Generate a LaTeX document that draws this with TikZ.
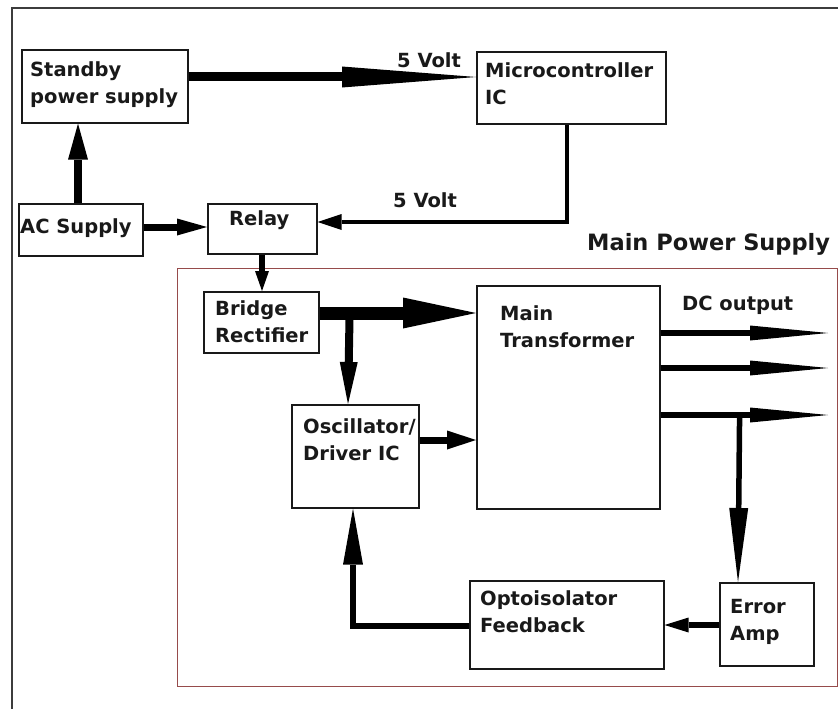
\documentclass[tikz,border=0pt]{standalone}
\usepackage{fontspec}
\setmainfont{DejaVu Sans}
\usetikzlibrary{arrows.meta,calc}
\definecolor{framegray}{RGB}{60,60,60}
\definecolor{psured}{RGB}{150,75,75}
\begin{document}
\begin{tikzpicture}[x=1pt,y=-1pt,
  box/.style={draw=black!90, line width=1.6pt, inner sep=0pt, anchor=north west},
  txt/.style={anchor=base west, align=left, inner sep=0pt, text=black!90,
    font=\fontsize{19.5}{27}\selectfont\bfseries},
  conn/.style={draw=black, line join=miter},
  tipA/.style n args={2}{-{Triangle[length=#1pt, width=#2pt, line width=0pt]}}
]
\useasboundingbox (0,0) rectangle (838,709);
\fill[white] (0,0) rectangle (838,709);
% outer frame (top and left)
\draw[framegray, line width=2pt] (12,709) -- (12,8) -- (838,8);
% main power supply enclosure
\node[draw=psured, line width=1.4pt, inner sep=0pt, anchor=north west,
      minimum width=660pt, minimum height=418pt] (psu) at (177,268) {};
\node[txt, font=\fontsize{22.5}{27}\selectfont\bfseries] (psulbl) at (587,250) {Main Power Supply};

% boxes
\node[box, minimum width=166pt, minimum height=73pt] (sb) at (21,49) {};
\node[box, minimum width=189pt, minimum height=72pt] (mc) at (476,51) {};
\node[box, minimum width=124pt, minimum height=52pt] (ac) at (18,203) {};
\node[box, minimum width=109pt, minimum height=50pt] (rl) at (207,203) {};
\node[box, minimum width=115pt, minimum height=61pt] (br) at (203,291) {};
\node[box, minimum width=183pt, minimum height=223pt] (tr) at (476,285) {};
\node[box, minimum width=127pt, minimum height=103pt] (os) at (291,404) {};
\node[box, minimum width=194pt, minimum height=88pt] (op) at (469,580) {};
\node[box, minimum width=94pt, minimum height=83pt] (ea) at (719,582) {};

% texts (base = baseline of last line)
\node[txt] (sbt) at (30,103) {Standby\\power supply};
\node[txt] (mct) at (485,104) {Microcontroller\\IC};
\node[txt] (act) at (20,233) {AC Supply};
\node[txt] (rlt) at (229,225) {Relay};
\node[txt] (brt) at (215,342) {Bridge\\Rectifier};
\node[txt] (trt) at (500,347) {Main\\Transformer};
\node[txt] (ost) at (303,460) {Oscillator/\\Driver IC};
\node[txt] (opt) at (480,632) {Optoisolator\\Feedback};
\node[txt] (eat) at (730,640) {Error\\Amp};
\node[txt] (v1) at (397,68) {5 Volt};
\node[txt] (v2) at (393,207) {5 Volt};
\node[txt] (dct) at (682,310) {DC output};

% junctions and free ends
\coordinate (j1) at ($(br.north east)+(30,22)$);
\coordinate (j2) at ($(tr.north east)+(79,130)$);
\coordinate (o1) at (828,333);
\coordinate (o2) at (828,368);
\coordinate (o3) at (828,415);

% connectors
\draw[conn, line width=9pt, tipA={134}{21}] ($(sb.north east)+(0,28)$) -- ($(mc.north west)+(0,26)$);
\draw[conn, line width=8pt, tipA={36}{20}] ($(ac.north west)+(60,0)$) -- ($(sb.south west)+(57,0)$);
\draw[conn, line width=7pt, tipA={30}{17}] ($(ac.north east)+(0,24)$) -- ($(rl.north west)+(0,24)$);
\draw[conn, line width=4.5pt, tipA={24}{16}] ($(mc.south west)+(91,0)$) |- ($(rl.north east)+(0,19)$);
\draw[conn, line width=6pt, tipA={20}{14}] ($(rl.south west)+(55,0)$) -- ($(br.north west)+(59,0)$);
\draw[conn, line width=13pt, tipA={73}{31}] ($(br.north east)+(0,22)$) -- ($(tr.north west)+(0,28)$);
\draw[conn, line width=8pt, tipA={42}{18}] (j1) -- ($(os.north west)+(57,0)$);
\draw[conn, line width=7pt, tipA={29}{19}] ($(os.north east)+(0,36)$) -- ($(tr.north west)+(0,155)$);
\draw[conn, line width=6pt, tipA={78}{15}] ($(tr.north east)+(0,48)$) -- (o1);
\draw[conn, line width=6pt, tipA={78}{15}] ($(tr.north east)+(0,83)$) -- (o2);
\draw[conn, line width=6pt, tipA={78}{15}] ($(tr.north east)+(0,130)$) -- (o3);
\draw[conn, line width=5.5pt, tipA={74}{19}] (j2) -- ($(ea.north west)+(19,0)$);
\draw[conn, line width=5.5pt, tipA={24}{15}] ($(ea.north west)+(0,43)$) -- ($(op.north east)+(0,45)$);
\draw[conn, line width=6.5pt, tipA={56}{20}] ($(op.north west)+(0,46)$) -| ($(os.south west)+(62,0)$);
\end{tikzpicture}
\end{document}
